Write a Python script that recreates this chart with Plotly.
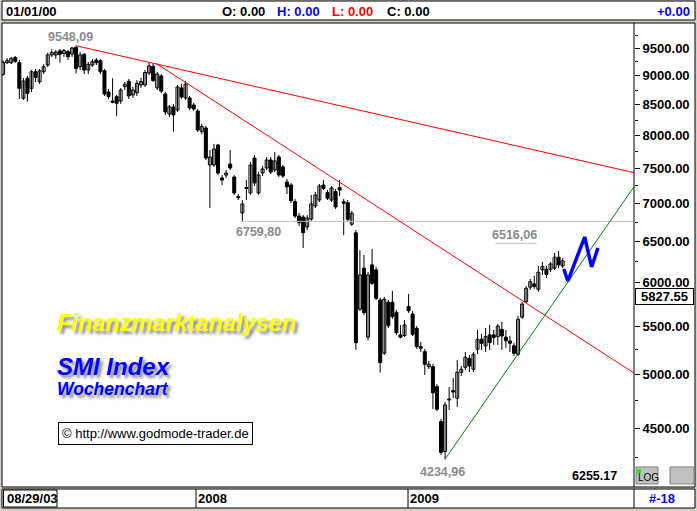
import numpy as np
import pandas as pd
import plotly.graph_objects as go

# ---------------- data (weekly SMI candles) ----------------
dates = pd.date_range("2007-02-02", periods=139, freq="7D")

opens = [9026, 9235, 9235, 9327, 9235, 8611, 8956, 8781, 9072, 8896,
         9072, 9193, 9376, 9376, 9450, 9404, 9437, 9394, 9519, 9163,
         9389, 9103, 9193, 9284, 9271, 9090, 8718, 8565, 8639, 8565,
         8811, 8903, 8667, 8705, 8839, 8839, 9049, 9170, 8787, 8997,
         8684, 8349, 8465, 8415, 8787, 8616, 8616, 8498, 8398, 8063,
         8122, 7553, 7553, 7855, 7362, 7404, 7567, 7376, 7096, 6872,
         7226, 7148, 7657, 7148, 7434, 7508, 7627, 7478, 7672, 7523,
         7304, 7261, 7026, 6831, 6818, 6686, 6791, 6968, 7050, 7261,
         7152, 7050, 7166, 7222, 7026, 7012, 6722, 6610, 5687, 6165,
         5383, 6205, 6144, 5792, 5216, 5766, 5766, 5654, 5407, 5400,
         5717, 5634, 5478, 5284, 5232, 5080, 5080, 4884, 4560, 4299,
         4758, 4846, 4774, 5024, 5074, 5164, 5054, 5257, 5361, 5292,
         5407, 5407, 5389, 5467, 5383, 5343, 5292, 5205, 5600, 5773,
         5939, 5977, 5915, 6144, 6152, 6152, 6165, 6300, 6193]

closes = [9242, 9271, 9315, 9260, 8781, 8908, 8694, 9072, 8972, 9090,
          9163, 9376, 9425, 9431, 9389, 9459, 9345, 9506, 9134, 9376,
          9103, 9206, 9253, 9235, 9072, 8684, 8639, 8543, 8526, 8752,
          8851, 8650, 8752, 8868, 8900, 9058, 9176, 8917, 9031, 8735,
          8382, 8465, 8333, 8804, 8633, 8856, 8449, 8432, 8090, 8145,
          7657, 7672, 7793, 7434, 7333, 7434, 7508, 7148, 7082, 6995,
          7212, 7552, 7290, 7405, 7493, 7627, 7449, 7612, 7405, 7391,
          7233, 7040, 6831, 6742, 6611, 6804, 6995, 7120, 7247, 7214,
          7074, 7219, 6954, 7190, 7004, 6788, 6868, 5325, 6084, 5649,
          6084, 5985, 5811, 5120, 5800, 5506, 5605, 5431, 5383, 5514,
          5671, 5414, 5284, 5267, 5104, 5104, 4826, 4672, 4292, 4712,
          4767, 4833, 5024, 5054, 5175, 5087, 5205, 5361, 5319, 5389,
          5326, 5380, 5503, 5396, 5347, 5319, 5216, 5577, 5745, 5926,
          6004, 5946, 6116, 6184, 6091, 6217, 6300, 6205, 6255.17]

highs = [9275, 9321, 9340, 9358, 9284, 8961, 8997, 9103, 9121, 9121,
         9211, 9419, 9481, 9468, 9487, 9487, 9468, 9525, 9548.09, 9431,
         9413, 9248, 9302, 9321, 9302, 9121, 8769, 8956, 8667, 8787,
         8891, 8944, 8804, 8926, 8961, 9103, 9235, 9224, 9067, 9031,
         8718, 8498, 8515, 8839, 8856, 8908, 8650, 8532, 8432, 8188,
         8155, 7778, 7872, 7872, 7404, 7478, 7778, 7404, 7134, 7050,
         7333, 7597, 7702, 7449, 7538, 7672, 7672, 7748, 7702, 7553,
         7347, 7290, 7064, 6872, 6845, 6845, 7120, 7162, 7276, 7333,
         7190, 7247, 7204, 7333, 7064, 7050, 6899, 6646, 6390, 6328,
         6120, 6403, 6180, 5815, 5827, 5792, 5895, 5679, 5514, 5569,
         5861, 5668, 5503, 5333, 5260, 5137, 5107, 4910, 4584, 4740,
         4881, 4968, 5147, 5087, 5229, 5198, 5229, 5460, 5417, 5481,
         5514, 5460, 5525, 5547, 5460, 5396, 5323, 5614, 5769, 5953,
         6036, 6072, 6193, 6241, 6193, 6241, 6353, 6378, 6290]

lows = [9000, 9211, 9211, 9230, 8599, 8582, 8553, 8717, 8891, 8856,
        9031, 9157, 9339, 9302, 9235, 9339, 9284, 9339, 9044, 9103,
        9031, 9031, 9157, 9193, 9031, 8650, 8599, 8526, 8317, 8516,
        8752, 8599, 8616, 8650, 8787, 8804, 9014, 8891, 8752, 8701,
        8333, 8300, 8063, 8382, 8599, 8582, 8415, 8398, 8058, 8027,
        7627, 6940, 7523, 7404, 7261, 7362, 7478, 7120, 7050, 6759.80,
        7050, 7120, 7247, 7120, 7390, 7478, 7419, 7449, 7376, 7362,
        7134, 7009, 6804, 6699, 6415, 6646, 6765, 6940, 7023, 7190,
        7050, 7023, 6927, 7106, 6580, 6765, 6699, 5250, 5668, 5624,
        5354, 5965, 5792, 5021, 5198, 5481, 5580, 5407, 5370, 5386,
        5646, 5396, 5260, 5229, 4998, 5057, 4674, 4656, 4271, 4234.96,
        4665, 4776, 4693, 4988, 5047, 5027, 5027, 5208, 5250, 5229,
        5250, 5302, 5302, 5250, 5271, 5229, 5188, 5188, 5580, 5757,
        5907, 5919, 5884, 6084, 6048, 6120, 6144, 6165, 6165]

# hand-drawn analysis lines (date, price)
trend_upper_x = ["2007-06-08", "2010-01-26"]
trend_upper_y = [9548.09, 7440]
trend_mid_x = ["2007-10-24", "2010-01-26"]
trend_mid_y = [9224, 5017]
trend_up_x = ["2009-03-06", "2010-01-26"]
trend_up_y = [4234.96, 7234]
zigzag_x = ["2009-09-27", "2009-10-04", "2009-11-02", "2009-11-14", "2009-11-25"]
zigzag_y = [6155, 6012, 6555, 6180, 6415]
support_x = ["2008-03-17", "2010-01-26"]
support_y = [6759.80, 6759.80]
mark_x = ["2009-06-01", "2009-08-11"]
mark_y = [6475, 6475]
last_marker = 5827.55

ytick_vals = [4500, 5000, 5500, 6000, 6500, 7000, 7500, 8000, 8500, 9000, 9500]
ytick_text = [f"{v:.2f}" for v in ytick_vals]
yminor_vals = [4250, 4750, 5250, 5750, 6250, 6750, 7250, 7750, 8250, 8750, 9250, 9750]
year_ticks = ["2008-01-01", "2009-01-01"]
year_labels = ["2008", "2009"]

# ---------------- figure ----------------
W, H = 697, 511
def X(px): return px / W
def Y(py): return 1 - py / H

SANS = "Liberation Sans, Arial, sans-serif"
UI = 13  # size of the bold UI font (header, axis, footer)

fig = go.Figure()

# wicks
wx, wy = [], []
for d, h, l in zip(dates, highs, lows):
    wx += [d, d, None]
    wy += [l, h, None]
fig.add_trace(go.Scatter(x=wx, y=wy, mode="lines", line=dict(color="black", width=1),
                         hoverinfo="skip", showlegend=False))

# bodies
base = [min(o, c) for o, c in zip(opens, closes)]
size = [max(abs(c - o), 1.0) for o, c in zip(opens, closes)]
cols = ["white" if c >= o else "black" for o, c in zip(opens, closes)]
fig.add_trace(go.Bar(x=dates, y=size, base=base, width=5.2 * 86400000,
                     marker=dict(color=cols, line=dict(color="black", width=1)),
                     showlegend=False, hoverinfo="skip"))

# analysis lines
fig.add_trace(go.Scatter(x=support_x, y=support_y, mode="lines",
                         line=dict(color="#c0c0c0", width=1), showlegend=False, hoverinfo="skip"))
fig.add_trace(go.Scatter(x=mark_x, y=mark_y, mode="lines",
                         line=dict(color="#c0c0c0", width=1), showlegend=False, hoverinfo="skip"))
for lx, ly, col in [(trend_upper_x, trend_upper_y, "#ff0000"),
                    (trend_mid_x, trend_mid_y, "#ff0000"),
                    (trend_up_x, trend_up_y, "#008000")]:
    fig.add_trace(go.Scatter(x=lx, y=ly, mode="lines", line=dict(color=col, width=1),
                             showlegend=False, hoverinfo="skip"))
fig.add_trace(go.Scatter(x=zigzag_x, y=zigzag_y, mode="lines",
                         line=dict(color="#0000ff", width=3.5), showlegend=False, hoverinfo="skip"))

shapes = [
    dict(type="rect", xref="paper", yref="paper", x0=X(2), x1=X(695), y0=Y(20), y1=Y(1),
         fillcolor="white", line=dict(color="black", width=1), layer="below"),
    dict(type="rect", xref="paper", yref="paper", x0=X(2), x1=X(695), y0=Y(487), y1=Y(23),
         fillcolor="white", line=dict(color="black", width=1), layer="below"),
    dict(type="rect", xref="paper", yref="paper", x0=X(2), x1=X(695), y0=Y(508), y1=Y(489),
         fillcolor="white", line=dict(color="black", width=1), layer="below"),
    dict(type="line", xref="paper", yref="paper", x0=X(634), x1=X(634), y0=Y(487), y1=Y(23),
         line=dict(color="black", width=1)),
    dict(type="line", xref="paper", yref="paper", x0=X(634), x1=X(634), y0=Y(508), y1=Y(489),
         line=dict(color="black", width=1)),
    dict(type="rect", xref="paper", yref="paper", x0=X(3.5), x1=X(57), y0=Y(507), y1=Y(490),
         line=dict(color="black", width=1)),
    dict(type="rect", xref="paper", yref="paper", x0=X(636), x1=X(658), y0=Y(484), y1=Y(467),
         fillcolor="#c0c0c0", line=dict(color="#808080", width=1)),
    dict(type="rect", xref="paper", yref="paper", x0=X(637), x1=X(641), y0=Y(473), y1=Y(469),
         fillcolor="#00ff00", line=dict(width=0)),
    dict(type="rect", xref="paper", yref="paper", x0=X(670), x1=X(694), y0=Y(484), y1=Y(467),
         fillcolor="#c0c0c0", line=dict(color="#808080", width=1)),
]
for d in year_ticks:
    shapes.append(dict(type="line", xref="x", yref="paper", x0=d, x1=d, y0=Y(508), y1=Y(489),
                       line=dict(color="black", width=1)))

annotations = []
def txt(x, y, s, size=UI, color="black", xanchor="left", bold=True):
    annotations.append(dict(xref="paper", yref="paper", x=X(x), y=Y(y), text=s, showarrow=False,
                            xanchor=xanchor, yanchor="middle",
                            font=dict(family=SANS, size=size, color=color,
                                      weight="bold" if bold else "normal")))

# header
txt(4, 11, "01/01/00")
txt(220, 11, "O: 0.00")
txt(275, 11, "H: 0.00", color="#0000ff")
txt(330, 11, "L: 0.00", color="#ff0000")
txt(385, 11, "C: 0.00")
txt(692, 11, "+0.00", color="#0000ff", xanchor="right")
# bottom bar
txt(5, 498.5, "08/29/03")
txt(662, 498.5, "#-18", color="#0000ff", xanchor="center")
for d, lab in zip(year_ticks, year_labels):
    annotations.append(dict(xref="x", yref="paper", x=d, y=Y(498.5), text=lab, showarrow=False,
                            xanchor="left", yanchor="middle", xshift=0,
                            font=dict(family=SANS, size=UI, color="black", weight="bold")))
# axis panel items
annotations.append(dict(xref="paper", yref="y", x=X(664.5), y=np.log10(last_marker), text="5827.55",
                        showarrow=False, xanchor="center", yanchor="middle", bgcolor="white",
                        bordercolor="black", borderwidth=1, borderpad=0, width=57,
                        font=dict(family=SANS, size=UI, color="black", weight="bold")))
txt(648, 477, "LOG", size=10, xanchor="center", bold=False)
txt(594, 476, "6255.17", size=12.5, xanchor="center")

# price labels
grey = "#8a8a8a"
def plabel(x, y, s, xs, ys):
    annotations.append(dict(xref="x", yref="y", x=x, y=np.log10(y), text=s, showarrow=False,
                            xanchor="center", yanchor="middle", xshift=xs, yshift=ys,
                            font=dict(family=SANS, size=12.5, color=grey, weight="bold")))
plabel(dates[18], 9548.09, "9548,09", -6, 9)
plabel(dates[59], 6759.80, "6759,80", 16, -11)
plabel("2009-07-03", 6516.06, "6516,06", 0, 5)
plabel(dates[109], 4234.96, "4234,96", -3, -13)

# titles with shadows
shadow = "3px 3px 3px rgba(60,60,60,0.6)"
annotations.append(dict(xref="paper", yref="paper", x=X(55), y=Y(322.5), text="Finanzmarktanalysen",
                        showarrow=False, xanchor="left", yanchor="middle",
                        font=dict(family=SANS, size=23.5, color="#ffff00", weight="bold",
                                  style="italic", shadow=shadow)))
annotations.append(dict(xref="paper", yref="paper", x=X(55), y=Y(366), text="SMI Index",
                        showarrow=False, xanchor="left", yanchor="middle",
                        font=dict(family=SANS, size=24, color="#0000ff", weight="bold",
                                  style="italic", shadow=shadow)))
annotations.append(dict(xref="paper", yref="paper", x=X(55), y=Y(389), text="Wochenchart",
                        showarrow=False, xanchor="left", yanchor="middle",
                        font=dict(family=SANS, size=17.5, color="#0000ff", weight="bold",
                                  style="italic", shadow=shadow)))
annotations.append(dict(xref="paper", yref="paper", x=X(58), y=Y(433.5),
                        text="© http://www.godmode-trader.de", showarrow=False,
                        xanchor="left", yanchor="middle", bgcolor="white", bordercolor="black",
                        borderwidth=1, borderpad=3,
                        font=dict(family=SANS, size=13, color="black")))

fig.update_layout(
    width=W, height=H, margin=dict(l=0, r=0, t=0, b=0),
    paper_bgcolor="#d4d0c8", plot_bgcolor="white",
    showlegend=False, shapes=shapes, annotations=annotations,
    xaxis=dict(type="date", domain=[X(2), X(634)],
               range=["2007-01-31 01:55", "2010-01-26 04:00"],
               showticklabels=False, ticks="", showgrid=False, zeroline=False, showline=False),
    yaxis=dict(type="log", domain=[Y(486), Y(23)],
               range=[np.log10(4017.5), np.log10(9984.5)], side="right",
               tickvals=ytick_vals, ticktext=ytick_text, ticks="outside", ticklen=5,
               tickcolor="black", tickwidth=1, showgrid=False, zeroline=False, showline=False,
               tickfont=dict(family=SANS, size=UI, color="black", weight="bold"),
               minor=dict(tickvals=yminor_vals, ticks="outside", ticklen=3, tickcolor="black")),
)

fig.write_html("out.html", config={"displayModeBar": False},
               post_script="document.body.style.margin='0px';document.body.style.overflow='hidden';")
